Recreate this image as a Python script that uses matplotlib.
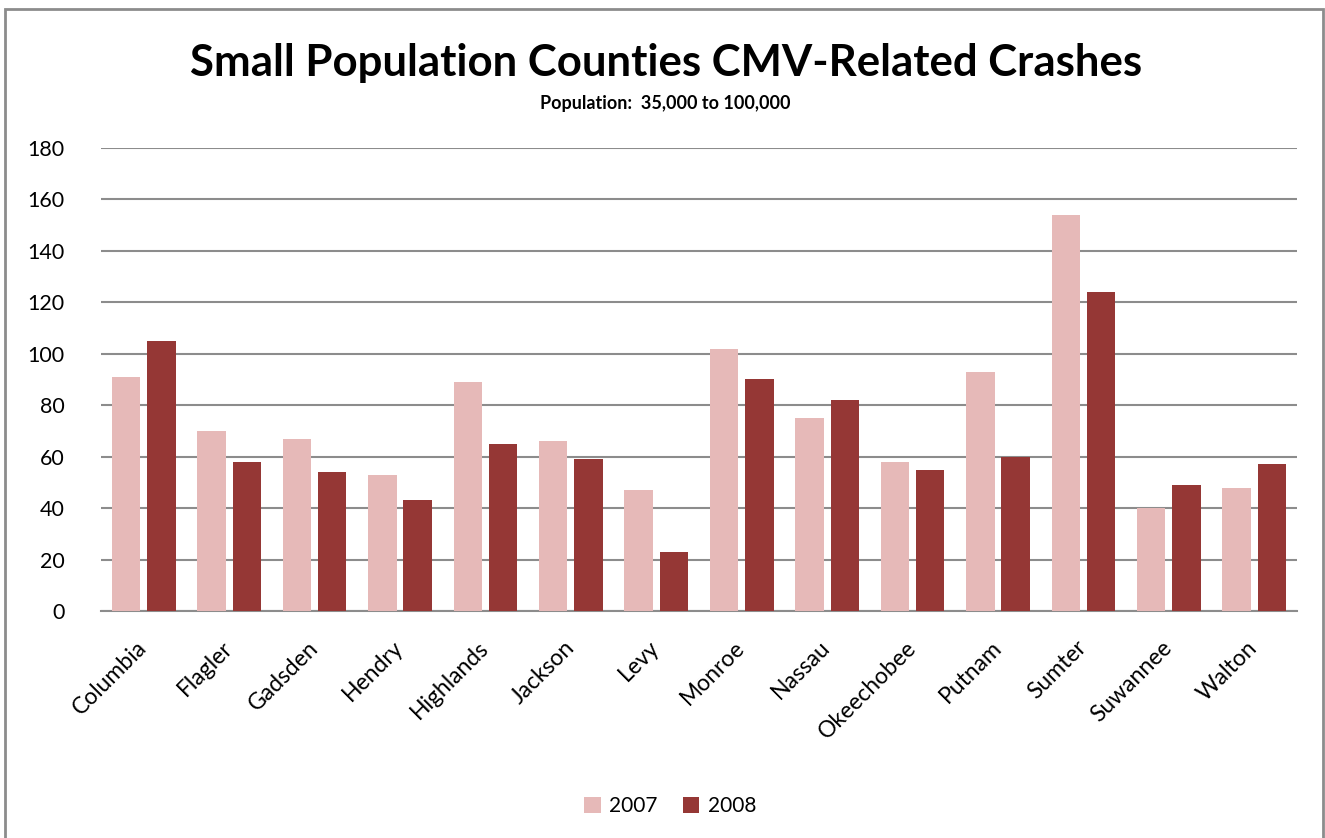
import matplotlib
matplotlib.use("Agg")
import matplotlib.pyplot as plt
from matplotlib.patches import Rectangle
import numpy as np

counties = ["Columbia", "Flagler", "Gadsden", "Hendry", "Highlands", "Jackson", "Levy",
            "Monroe", "Nassau", "Okeechobee", "Putnam", "Sumter", "Suwannee", "Walton"]
crashes_2007 = [91, 70, 67, 53, 89, 66, 47, 102, 75, 58, 93, 154, 40, 48]
crashes_2008 = [105, 58, 54, 43, 65, 59, 23, 90, 82, 55, 60, 124, 49, 57]
y_ticks = [0, 20, 40, 60, 80, 100, 120, 140, 160, 180]

plt.rcParams['font.family'] = ['Lato', 'DejaVu Sans']

W, H = 1325, 838
fig = plt.figure(figsize=(W / 100, H / 100), dpi=100)
ax = fig.add_axes([101 / W, 1 - 611 / H, (1297 - 101) / W, (611 - 148) / H])

x = np.arange(len(counties))
bw = 0.333
off = bw / 2 + 0.04
ax.bar(x - off, crashes_2007, bw, color="#E6B9B8", label="2007", zorder=3)
ax.bar(x + off, crashes_2008, bw, color="#953735", label="2008", zorder=3)

ax.set_xlim(-0.5, len(counties) - 0.5)
ax.set_ylim(0, 180)
ax.set_yticks(y_ticks)
ax.set_yticklabels([str(v) for v in y_ticks], fontsize=15.5)
ax.yaxis.grid(True, color="#8c8c8c", linewidth=1.5, zorder=0)
ax.set_axisbelow(True)
for s in ["top", "right", "left"]:
    ax.spines[s].set_visible(False)
ax.spines["bottom"].set_color("#8c8c8c")
ax.spines["bottom"].set_linewidth(1.5)
ax.tick_params(axis="y", length=0, pad=26)
ax.tick_params(axis="x", length=0, pad=24)
ax.set_xticks(x)
ax.set_xticklabels(counties, rotation=45, ha="right", va="center",
                   rotation_mode="anchor", fontsize=16.5)

fig.text(666 / W, 1 - 63 / H, "Small Population Counties CMV-Related Crashes",
         ha="center", va="center", fontsize=31.5, fontweight="bold")
fig.text(665 / W, 1 - 103 / H, "Population:  35,000 to 100,000",
         ha="center", va="center", fontsize=13, fontweight="bold")

leg = fig.legend(loc="center", bbox_to_anchor=(670 / W, 1 - 806 / H), ncol=2,
                 frameon=False, fontsize=15, handlelength=0.8, handleheight=0.8,
                 handletextpad=0.4, columnspacing=1.2)

fig.patches.append(Rectangle((5 / W, -0.1), (1323 - 5) / W, 1.1 - 9 / H,
                             transform=fig.transFigure, fill=False,
                             edgecolor="#8c8c8c", linewidth=2))

fig.savefig("out.png", dpi=100)
